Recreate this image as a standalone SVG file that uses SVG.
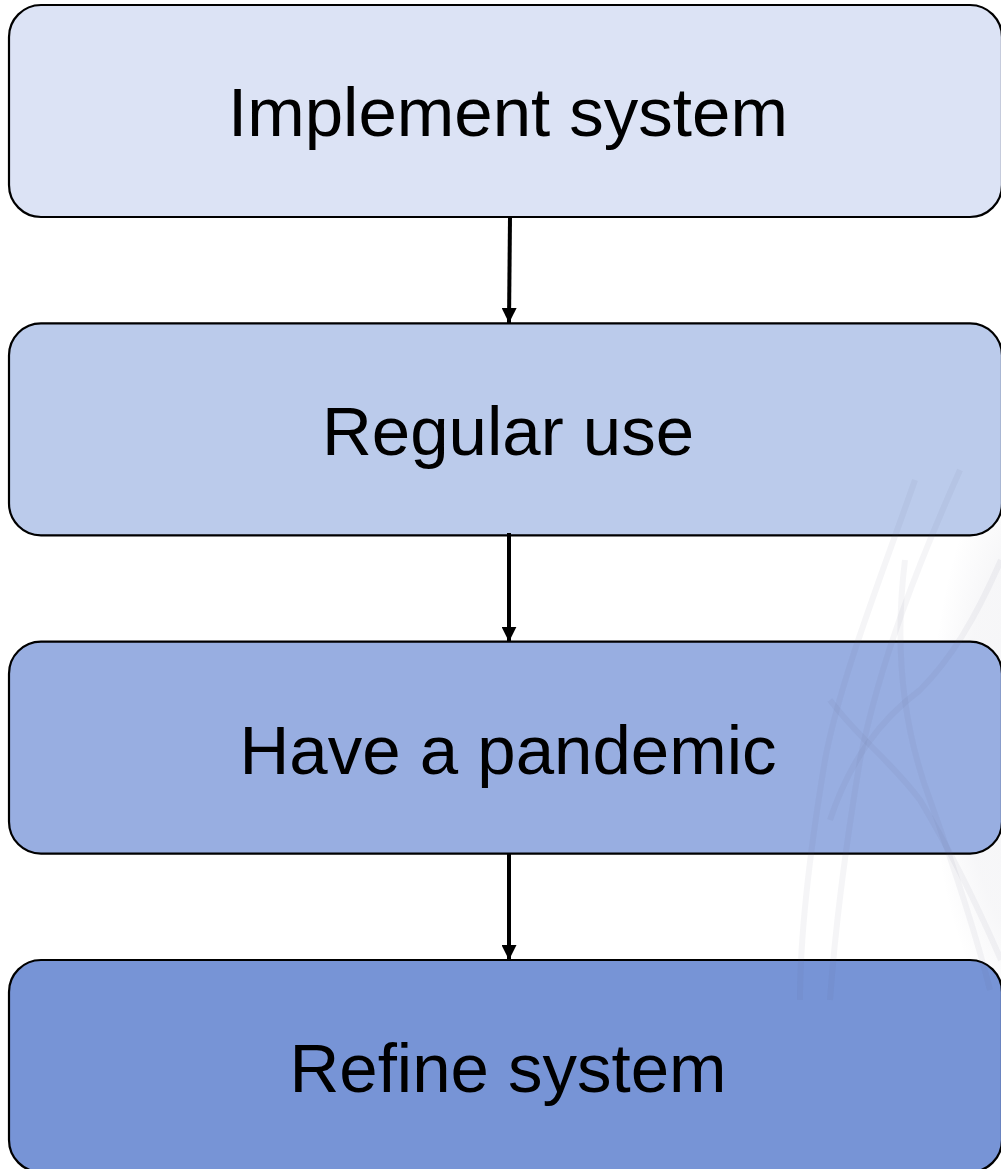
<svg xmlns="http://www.w3.org/2000/svg" width="1001" height="1169" viewBox="0 0 1001 1169">
  <style>
    .box { stroke: #000; stroke-width: 2.2; }
    .lbl { font-family: "Liberation Sans", Arial, sans-serif; font-size: 69px; fill: #000; text-anchor: middle; }
    .conn { stroke: #000; stroke-width: 4; fill: none; }
    .wm { fill: none; stroke: #5a5a7a; stroke-opacity: 0.06; stroke-width: 6; }
  </style>
  <defs>
    <marker id="arrow" viewBox="0 0 15 15" refX="15" refY="7.5" markerWidth="15" markerHeight="15" markerUnits="userSpaceOnUse" orient="auto">
      <path d="M0,0 L15,7.5 L0,15 Z" fill="#000"/>
    </marker>
    <radialGradient id="wmfill" cx="0.5" cy="0.5" r="0.5">
      <stop offset="0" stop-color="#5a5a7a" stop-opacity="0.06"/>
      <stop offset="0.7" stop-color="#5a5a7a" stop-opacity="0.05"/>
      <stop offset="1" stop-color="#5a5a7a" stop-opacity="0"/>
    </radialGradient>
  </defs>
  <rect width="1001" height="1169" fill="#ffffff"/>
  <g id="background">
    <ellipse cx="1040" cy="740" rx="110" ry="300" fill="url(#wmfill)"/>
  </g>
  <g id="node1">
    <rect class="box" x="9" y="5" width="993" height="212" rx="32" fill="#dce3f5"/>
    <text class="lbl" x="508" y="136">Implement system</text>
  </g>
  <g id="node2">
    <rect class="box" x="9" y="323.3" width="993" height="212" rx="32" fill="#bbcbeb"/>
    <text class="lbl" x="508" y="455">Regular use</text>
  </g>
  <g id="node3">
    <rect class="box" x="9" y="641.7" width="993" height="212" rx="32" fill="#98aee1"/>
    <text class="lbl" x="508" y="774">Have a pandemic</text>
  </g>
  <g id="node4">
    <rect class="box" x="9" y="960" width="993" height="212" rx="32" fill="#7794d6"/>
    <text class="lbl" x="508" y="1092">Refine system</text>
  </g>
  <g id="watermark">
    <path class="wm" d="M915,480 C880,580 840,680 825,760 C810,850 800,930 800,1000"/>
    <path class="wm" d="M960,470 C920,560 880,660 860,760 C845,850 835,930 830,1000"/>
    <path class="wm" d="M830,820 C850,760 880,720 920,690 C950,660 975,620 1001,560"/>
    <path class="wm" d="M830,700 C860,740 890,760 920,800 C950,850 975,900 1001,960"/>
    <path class="wm" d="M905,560 C895,640 900,720 930,800 C955,870 975,930 990,990"/>
  </g>
  <g id="connectors">
    <line class="conn" x1="510" y1="217" x2="509" y2="323" marker-end="url(#arrow)"/>
    <line class="conn" x1="509" y1="533" x2="509" y2="641.7" marker-end="url(#arrow)"/>
    <line class="conn" x1="509" y1="854" x2="509" y2="960" marker-end="url(#arrow)"/>
  </g>
</svg>
